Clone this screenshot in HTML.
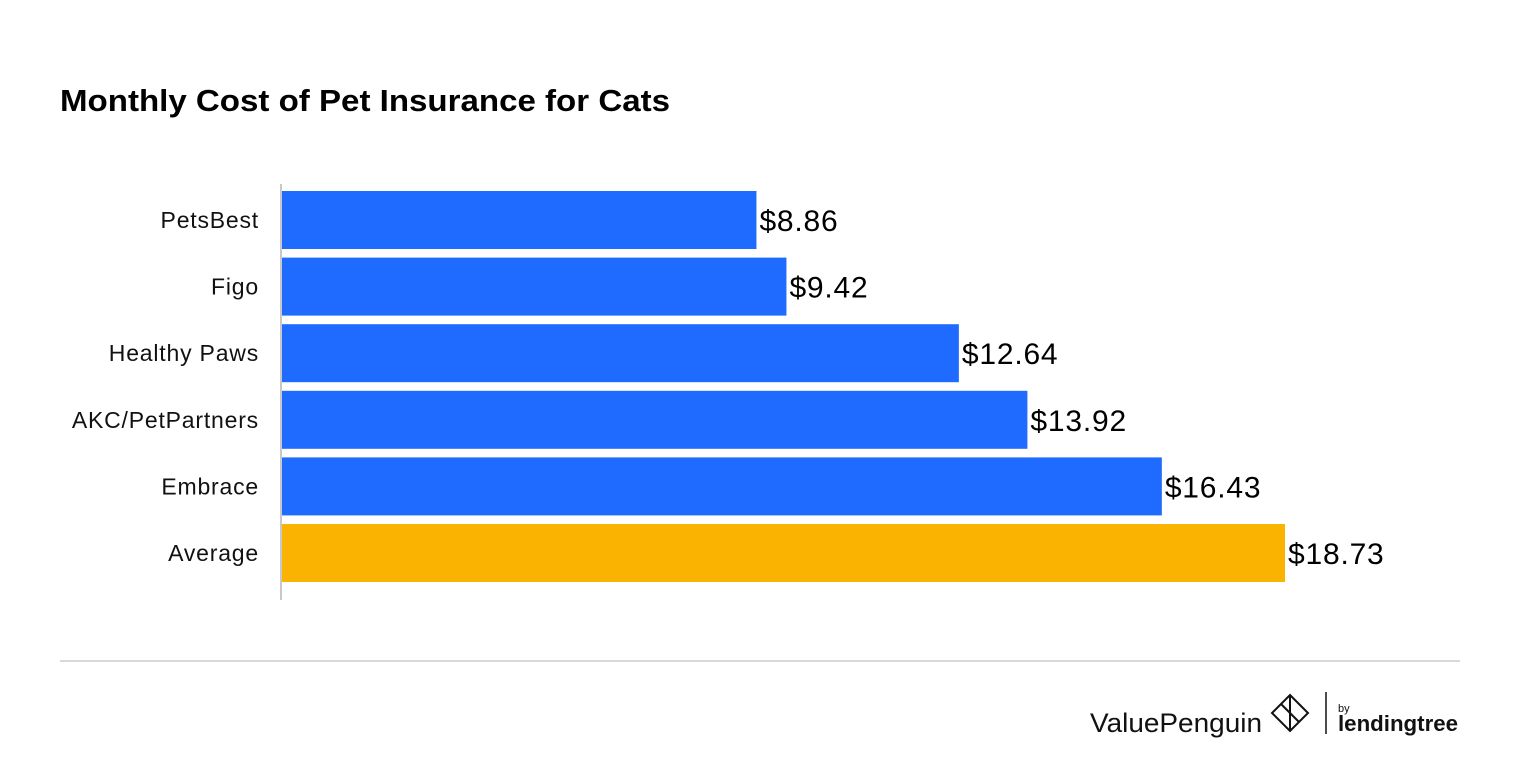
<!DOCTYPE html>
<html><head><meta charset="utf-8"><style>
body{margin:0;background:#fff;}
svg{display:block;font-family:"Liberation Sans",sans-serif;}
</style></head><body>
<svg id="chart" width="1520" height="770">
<text x="60" y="111" font-size="31" font-weight="bold" fill="#000" textLength="610" lengthAdjust="spacingAndGlyphs">Monthly Cost of Pet Insurance for Cats</text>
<line x1="281" y1="184" x2="281" y2="600" stroke="#c8c8c8" stroke-width="2"/>
<g id="bars"></g>
<line x1="60" y1="661" x2="1460" y2="661" stroke="#d9d9d9" stroke-width="2"/>
<g>
<text x="1090" y="732" font-size="27" fill="#111" textLength="172" lengthAdjust="spacingAndGlyphs">ValuePenguin</text>
<path d="M1290 695 L1308 713 L1290 731 L1272 713 Z M1290 695 L1290 731 M1281 704 L1299 722" fill="none" stroke="#111" stroke-width="2"/>
</g>
<line x1="1326" y1="692" x2="1326" y2="734" stroke="#111" stroke-width="1.5"/>
<g>
<text x="1338" y="712" font-size="11" fill="#111">by</text>
<text x="1338" y="731" font-size="22" font-weight="bold" fill="#111" textLength="120" lengthAdjust="spacingAndGlyphs">lendingtree</text>
</g>
</svg>
<script>
const categories=["PetsBest","Figo","Healthy Paws","AKC/PetPartners","Embrace","Average"];
const values=[8.86,9.42,12.64,13.92,16.43,18.73];
const valueLabels=["$8.86","$9.42","$12.64","$13.92","$16.43","$18.73"];
const NS="http://www.w3.org/2000/svg";
const x0=282,pxPerUnit=53.55;
function xScale(v){return x0+v*pxPerUnit;}
function yScale(i){return 191+i*66.6;}
const bh=58;
const g=document.getElementById("bars");
categories.forEach((c,i)=>{
  const y=yScale(i);
  const r=document.createElementNS(NS,"rect");
  r.setAttribute("x",x0);r.setAttribute("y",y);
  r.setAttribute("width",xScale(values[i])-x0);r.setAttribute("height",bh);
  r.setAttribute("fill",c==="Average"?"#f9b300":"#1f6bff");
  
  
  g.appendChild(r);
  const t=document.createElementNS(NS,"text");
  t.setAttribute("x",259);t.setAttribute("y",y+bh/2+8);
  t.setAttribute("text-anchor","end");t.setAttribute("font-size","23");t.setAttribute("fill","#111");
  t.setAttribute("letter-spacing","0.8");
  t.textContent=c;
  
  
  g.appendChild(t);
  const v=document.createElementNS(NS,"text");
  v.setAttribute("x",xScale(values[i])+3);v.setAttribute("y",y+bh/2+11);
  v.setAttribute("font-size","30");v.setAttribute("fill","#000");
  v.setAttribute("letter-spacing","0.8");
  v.textContent=valueLabels[i];
  
  
  g.appendChild(v);
});
</script>
</body></html>
